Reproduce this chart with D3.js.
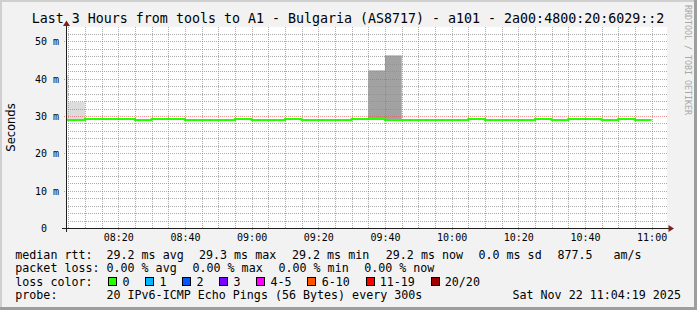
<!DOCTYPE html>
<html>
<head>
<meta charset="utf-8">
<script src="https://cdn.jsdelivr.net/npm/d3@7"></script>
<style>
  body { margin: 0; background: #f2f2f2; }
  svg { display: block; }
  text { font-family: "DejaVu Sans Mono", monospace; fill: #000; }
</style>
</head>
<body>
<svg id="chart" width="697" height="310"></svg>
<script>
// DATA (bin end times, 5 minute steps, median rtt in ms)
var binEnds = ["08:05", "08:10", "08:15", "08:20", "08:25", "08:30", "08:35", "08:40", "08:45",
    "08:50", "08:55", "09:00", "09:05", "09:10", "09:15", "09:20", "09:25", "09:30", "09:35",
    "09:40", "09:45", "09:50", "09:55", "10:00", "10:05", "10:10", "10:15", "10:20", "10:25",
    "10:30", "10:35", "10:40", "10:45", "10:50", "10:55", "11:00"];
var medianMs = [29.0, 29.0, 29.25, 29.25, 29.25, 29.0, 29.25, 29.25, 29.0,
    29.0, 29.0, 29.25, 29.0, 29.0, 29.25, 29.0, 29.0, 29.0, 29.25,
    29.25, 29.0, 29.0, 29.0, 29.0, 29.0, 29.25, 29.0, 29.0, 29.0,
    29.25, 29.0, 29.25, 29.25, 29.0, 29.25, 29.0];

// smoke (spread of the pings) where it is visible
var smokeEnds = ["08:05", "08:10", "09:40", "09:45"];
var smokeMaxMs = [40.9, 33.8, 42.2, 46.3];
var smokeDenseMs = [null, null, 42.0, 46.0];

var yTicks = [0, 10, 20, 30, 40, 50];
var xTicks = ["08:20", "08:40", "09:00", "09:20", "09:40", "10:00", "10:20", "10:40", "11:00"];

var lossLabels = ["0", "1", "2", "3", "4-5", "6-10", "11-19", "20/20"];
var lossColors = ["#26ff00", "#00b8ff", "#0059ff", "#7e00ff", "#ff00ff", "#ff5500", "#ff0000", "#a10000"];

var medianStats = ["29.2 ms avg", "29.3 ms max", "29.2 ms min", "29.2 ms now", "0.0 ms sd", "877.5", "am/s"];
var lossStats = ["0.00 % avg", "0.00 % max", "0.00 % min", "0.00 % now"];

var titleText = "Last 3 Hours from tools to A1 - Bulgaria (AS8717) - a101 - 2a00:4800:20:6029::2";
var probeText = "20 IPv6-ICMP Echo Pings (56 Bytes) every 300s";
var dateText = "Sat Nov 22 11:04:19 2025";


var svg = d3.select("#chart"),
    W = 697,
    H = 310;

var parseT = d3.timeParse("%Y-%m-%dT%H:%M:%S");
function t(s) {
    return parseT("2025-11-22T" + (s.length === 5 ? s + ":00" : s));
}
var STEP = 300000;

var x = d3.scaleTime().domain([t("08:04:19"), t("11:04:19")]).range([66, 666]),
    y = d3.scaleLinear().domain([0, 53.85]).range([228, 27]);

function px(v) { return Math.round(v) + 0.5; }

// background + shade frame
svg.append("rect").attr("width", W).attr("height", H).attr("fill", "#f2f2f2");
svg.append("rect").attr("x", 0).attr("y", 0).attr("width", W).attr("height", 2).attr("fill", "#cfcfcf");
svg.append("rect").attr("x", 0).attr("y", 0).attr("width", 2).attr("height", H).attr("fill", "#cfcfcf");
svg.append("rect").attr("x", 0).attr("y", H - 3).attr("width", W).attr("height", 3).attr("fill", "#9e9e9e");
svg.append("rect").attr("x", W - 3).attr("y", 0).attr("width", 3).attr("height", H).attr("fill", "#9e9e9e");

// canvas
svg.append("rect")
    .attr("x", 66).attr("y", 27)
    .attr("width", 601).attr("height", 201)
    .attr("fill", "#ffffff");

svg.append("clipPath").attr("id", "plotclip")
    .append("rect").attr("x", 66).attr("y", 27).attr("width", 601).attr("height", 201);

var plot = svg.append("g").attr("clip-path", "url(#plotclip)");

// smoke
smokeEnds.forEach(function (e, i) {
    var end = t(e),
        start = new Date(end.getTime() - STEP),
        med = medianMs[binEnds.indexOf(e)],
        dense = smokeDenseMs[i];
    plot.append("rect")
        .attr("x", x(start)).attr("width", x(end) - x(start))
        .attr("y", Math.round(y(smokeMaxMs[i])))
        .attr("height", Math.round(y(med)) - Math.round(y(smokeMaxMs[i])))
        .attr("fill", dense === null ? "#dcdcdc" : "#c6c6c6");
    if (dense !== null) {
        plot.append("rect")
            .attr("x", x(start)).attr("width", x(end) - x(start))
            .attr("y", Math.round(y(dense)))
            .attr("height", Math.round(y(med)) - Math.round(y(dense)))
            .attr("fill", "#a2a2a2");
    }
});

// grid
var grid = svg.append("g").attr("fill", "none").attr("stroke-width", 1).attr("stroke-dasharray", "1,1");
var minorX = d3.timeMinute.every(5).range(x.domain()[0], x.domain()[1]).filter(function (d) {
    return d.getMinutes() % 20 !== 0;
});
grid.selectAll(".gx").data(minorX).enter().append("line")
    .attr("x1", function (d) { return px(x(d)); })
    .attr("x2", function (d) { return px(x(d)); })
    .attr("y1", 27).attr("y2", 228)
    .attr("stroke", "rgba(143,143,143,0.75)");
var minorY = d3.range(2, 54, 2).filter(function (d) { return d % 10 !== 0; });
grid.selectAll(".gy").data(minorY).enter().append("line")
    .attr("y1", function (d) { return px(y(d)); })
    .attr("y2", function (d) { return px(y(d)); })
    .attr("x1", 66).attr("x2", 667)
    .attr("stroke", "rgba(143,143,143,0.75)");
grid.selectAll(".mx").data(xTicks).enter().append("line")
    .attr("x1", function (d) { return px(x(t(d))); })
    .attr("x2", function (d) { return px(x(t(d))); })
    .attr("y1", 27).attr("y2", 230)
    .attr("stroke", "rgba(222,79,79,0.6)");
grid.selectAll(".my").data(yTicks.slice(1)).enter().append("line")
    .attr("y1", function (d) { return px(y(d)); })
    .attr("y2", function (d) { return px(y(d)); })
    .attr("x1", 64).attr("x2", 667)
    .attr("stroke", "rgba(222,79,79,0.6)");

// median line
var medPts = [];
binEnds.forEach(function (e, i) {
    medPts.push([new Date(t(e).getTime() - STEP), medianMs[i]]);
    medPts.push([t(e), medianMs[i]]);
});
var line = d3.line()
    .x(function (d) { return x(d[0]); })
    .y(function (d) { return Math.round(y(d[1])); });
plot.append("path")
    .datum(medPts)
    .attr("d", line)
    .attr("fill", "none")
    .attr("stroke", lossColors[0])
    .attr("stroke-width", 2);

// axes
svg.append("line").attr("x1", 66.5).attr("x2", 66.5).attr("y1", 232).attr("y2", 24)
    .attr("stroke", "#1f1f1f");
svg.append("line").attr("x1", 62).attr("x2", 670).attr("y1", 228.5).attr("y2", 228.5)
    .attr("stroke", "#1f1f1f");
svg.append("path").attr("d", "M66.5,20.5L70,26L63,26Z").attr("fill", "#801f1f");
svg.append("path").attr("d", "M674,228.5L668.5,225L668.5,232Z").attr("fill", "#801f1f");

var xAxis = svg.append("g")
    .attr("transform", "translate(0,228)")
    .call(d3.axisBottom(x)
        .tickValues(xTicks.map(t))
        .tickFormat(d3.timeFormat("%H:%M"))
        .tickSize(0)
        .tickPadding(6));
xAxis.select(".domain").remove();
xAxis.selectAll("text").attr("font-size", "10px").attr("font-family", "DejaVu Sans Mono");

var yAxis = svg.append("g")
    .attr("transform", "translate(66,0)")
    .call(d3.axisLeft(y)
        .tickValues(yTicks)
        .tickFormat(function (d) { return d === 0 ? "0\u00a0\u00a0" : d + " m"; })
        .tickSize(0)
        .tickPadding(7));
yAxis.select(".domain").remove();
yAxis.selectAll("text").attr("font-size", "10px").attr("font-family", "DejaVu Sans Mono").attr("dy", "0.36em");

// titles
svg.append("text")
    .attr("x", 348).attr("y", 23.3)
    .attr("text-anchor", "middle")
    .attr("font-size", "13.3px")
    .text(titleText);

svg.append("text")
    .attr("transform", "translate(15,127.5) rotate(-90)")
    .attr("text-anchor", "middle")
    .attr("font-family", "DejaVu Sans")
    .style("font-family", "DejaVu Sans")
    .attr("font-size", "11.5px")
    .text("Seconds");

svg.append("text")
    .attr("transform", "translate(685,5) rotate(90)")
    .attr("font-size", "8.3px")
    .style("fill", "#a8a8a8")
    .text("RRDTOOL / TOBI OETIKER");

// legend
var legend = svg.append("g").attr("font-size", "11.66px");
var rows = [258.5, 272, 285.5, 299];

legend.append("text").attr("x", 15.3).attr("y", rows[0]).text("median rtt:");
var medX = [106.5, 199, 292, 385.8, 478.5, 557.5, 613.5];
legend.selectAll(".ms").data(medianStats).enter().append("text")
    .attr("x", function (d, i) { return medX[i]; })
    .attr("y", rows[0])
    .text(function (d) { return d; });

legend.append("text").attr("x", 15.3).attr("y", rows[1]).text("packet loss:");
var lossX = [106.5, 192.5, 278.5, 364.2];
legend.selectAll(".ls").data(lossStats).enter().append("text")
    .attr("x", function (d, i) { return lossX[i]; })
    .attr("y", rows[1])
    .text(function (d) { return d; });

legend.append("text").attr("x", 15.3).attr("y", rows[2]).text("loss color:");
var bx = 108.3;
lossLabels.forEach(function (lab, i) {
    legend.append("rect")
        .attr("x", Math.round(bx) + 0.5).attr("y", 277.5)
        .attr("width", 8).attr("height", 8)
        .attr("fill", lossColors[i])
        .attr("stroke", "#000");
    legend.append("text").attr("x", bx + 14.2).attr("y", rows[2]).text(lab);
    bx += 30 + 7.02 * lab.length;
});

legend.append("text").attr("x", 15.3).attr("y", rows[3]).text("probe:");
legend.append("text").attr("x", 106.5).attr("y", rows[3]).text(probeText);
legend.append("text").attr("x", 512.5).attr("y", rows[3]).text(dateText);
</script>
</body>
</html>
